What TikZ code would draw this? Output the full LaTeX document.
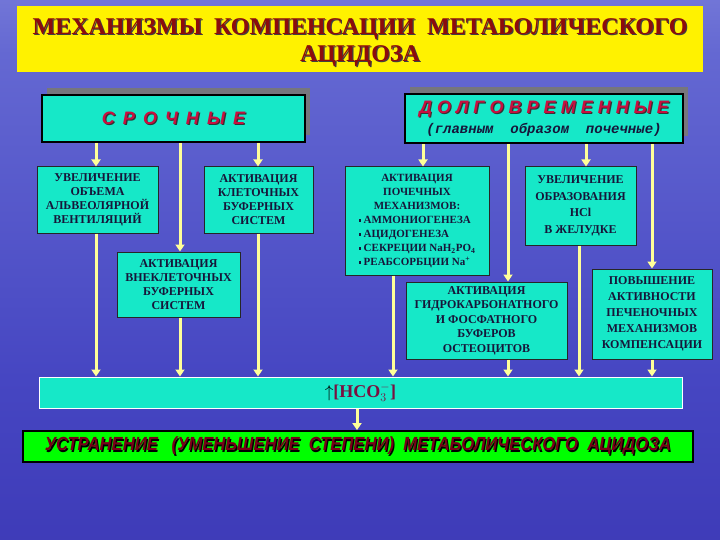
\documentclass[tikz,border=0pt]{standalone}
\usepackage{fontspec}
\setmainfont{Liberation Serif}
\newfontfamily\headfont{Liberation Sans}
\newfontfamily\notefont{Liberation Mono}
\newfontfamily\narrowfont[FakeStretch=0.875]{Liberation Sans}
\usepackage{tikz}
\usetikzlibrary{arrows.meta}
\usetikzlibrary{shadows}
\tikzset{>={Triangle[length=7pt,width=9pt]}}

\definecolor{seabottom}{RGB}{50,42,168}
\definecolor{seamid}{RGB}{70,70,194}
\definecolor{skymid}{RGB}{100,104,210}
\definecolor{skylight}{RGB}{140,144,224}
\definecolor{skytop}{RGB}{186,188,236}
\definecolor{boxteal}{RGB}{22,232,200}
\definecolor{feedyellow}{RGB}{255,255,153}
\definecolor{titlered}{RGB}{140,12,12}
\definecolor{headred}{RGB}{200,16,64}
\definecolor{boxtext}{RGB}{22,22,58}
\definecolor{finalred}{RGB}{120,0,24}
\definecolor{hcored}{RGB}{122,16,64}
\definecolor{shadowgray}{RGB}{118,118,124}

\pgfdeclareverticalshading{sky}{100bp}{color(0bp)=(seabottom); color(40bp)=(seamid);
  color(70bp)=(skymid); color(85bp)=(skylight); color(100bp)=(skytop)}

\newcommand{\shtext}[3]{\makebox[0pt][l]{\kern1.2pt\raisebox{-1.2pt}{\color{#2}#3}}{\color{#1}#3}}
\newcommand{\gapa}{\hspace{0.45em}}
\newcommand{\gapb}{\hspace{0.28em}}
\newcommand{\sq}{\rule[2pt]{2.4pt}{2.4pt}}

\tikzset{
  titlebox/.style={fill=yellow, inner sep=0pt, align=center,
    font=\fontsize{24}{27.5}\selectfont\bfseries},
  headbox/.style={draw=black, line width=1.6pt, fill=boxteal, inner sep=0pt, align=center,
    drop shadow={shadow xshift=5pt, shadow yshift=7pt, fill=shadowgray, opacity=1}},
  subbox/.style={draw=black!85, line width=1pt, fill=boxteal, inner sep=0pt, align=center,
    text=boxtext, font=\fontsize{12}{14}\selectfont\bfseries},
  barbox/.style={draw=white, line width=1pt, fill=boxteal, inner sep=0pt},
  finalbox/.style={draw=black, line width=1.8pt, fill=green, inner sep=0pt},
  feed/.style={->, draw=feedyellow, fill=feedyellow, line width=3pt}
}

\begin{document}
\begin{tikzpicture}[x=1pt,y=-1pt]

\useasboundingbox (0,0) rectangle (720,540);
\shade[shading=sky] (0,0) rectangle (720,540);

% title
\node[titlebox, minimum width=686, minimum height=66] (title) at (360,39)
  {\rule{0pt}{24pt}\shtext{titlered}{black!75}{МЕХАНИЗМЫ\ \ КОМПЕНСАЦИИ\ \ МЕТАБОЛИЧЕСКОГО}\\
   \shtext{titlered}{black!75}{АЦИДОЗА}};

% two groups
\node[headbox, minimum width=263, minimum height=47] (srochnye) at (173.5,118.5)
  {\headfont\bfseries\itshape\fontsize{18}{20}\selectfont
   \shtext{headred}{black!80}{С\gapa Р\gapa О\gapa Ч\gapa Н\gapa Ы\gapa Е}};
\node[headbox, minimum width=278, minimum height=49,
  font=\fontsize{18}{20}\selectfont] (dolg) at (544,118.5)
  {{\headfont\bfseries\itshape
    \shtext{headred}{black!80}{Д\gapb О\gapb Л\gapb Г\gapb О\gapb В\gapb Р\gapb Е\gapb М\gapb Е\gapb Н\gapb Н\gapb Ы\gapb Е}}\\
   {\notefont\bfseries\itshape\fontsize{14}{16}\selectfont\color{boxtext}(главным\ \ образом\ \ почечные)}};

% urgent mechanisms
\node[subbox, minimum width=121, minimum height=66] (uvel) at (97.5,200)
  {УВЕЛИЧЕНИЕ\\ОБЪЕМА\\АЛЬВЕОЛЯРНОЙ\\ВЕНТИЛЯЦИЙ};
\node[subbox, minimum width=109, minimum height=66] (klet) at (258.5,200)
  {АКТИВАЦИЯ\\КЛЕТОЧНЫХ\\БУФЕРНЫХ\\СИСТЕМ};
\node[subbox, minimum width=123, minimum height=65] (vnekl) at (178.5,284.5)
  {АКТИВАЦИЯ\\ВНЕКЛЕТОЧНЫХ\\БУФЕРНЫХ\\СИСТЕМ};

% long-term mechanisms
\node[subbox, minimum width=144, minimum height=108,
  font=\fontsize{11}{14}\selectfont\bfseries] (pochech) at (417,221)
  {\begin{tabular}{@{}l@{}}
   \multicolumn{1}{@{}c@{}}{АКТИВАЦИЯ}\\
   \multicolumn{1}{@{}c@{}}{ПОЧЕЧНЫХ}\\
   \multicolumn{1}{@{}c@{}}{МЕХАНИЗМОВ:}\\
   \sq\ АММОНИОГЕНЕЗА\\
   \sq\ АЦИДОГЕНЕЗА\\
   \sq\ СЕКРЕЦИИ NaH\textsubscript{2}PO\textsubscript{4}\\
   \sq\ РЕАБСОРБЦИИ Na\textsuperscript{+}
   \end{tabular}};
\node[subbox, minimum width=111, minimum height=78,
  font=\fontsize{12}{16.5}\selectfont\bfseries] (hcl) at (580.5,206)
  {УВЕЛИЧЕНИЕ\\ОБРАЗОВАНИЯ\\HCl\\В ЖЕЛУДКЕ};
\node[subbox, minimum width=161, minimum height=77,
  font=\fontsize{12}{14.5}\selectfont\bfseries] (gidro) at (486.5,320.5)
  {АКТИВАЦИЯ\\ГИДРОКАРБОНАТНОГО\\И ФОСФАТНОГО\\БУФЕРОВ\\ОСТЕОЦИТОВ};
\node[subbox, minimum width=120, minimum height=90,
  font=\fontsize{12}{16}\selectfont\bfseries] (povysh) at (652,314)
  {ПОВЫШЕНИЕ\\АКТИВНОСТИ\\ПЕЧЕНОЧНЫХ\\МЕХАНИЗМОВ\\КОМПЕНСАЦИИ};

% result
\node[barbox, minimum width=643, minimum height=31] (bar) at (360.5,392.5)
  {\bfseries\fontsize{18}{20}\selectfont{\color{black}$\uparrow$}\color{hcored}[HCO$_{3}^{-}$]};
\node[finalbox, minimum width=670, minimum height=31] (final) at (358,446.5)
  {\narrowfont\bfseries\itshape\fontsize{19}{20}\selectfont
   \shtext{finalred}{black}{УСТРАНЕНИЕ\ \ \ (УМЕНЬШЕНИЕ\ \ СТЕПЕНИ)\ \ МЕТАБОЛИЧЕСКОГО\ \ АЦИДОЗА}};

% lanes of the connectors
\coordinate (laneA) at (96,0);
\coordinate (laneB) at (180,0);
\coordinate (laneC) at (258,0);
\coordinate (laneD) at (393,0);
\coordinate (laneE) at (423,0);
\coordinate (laneF) at (508,0);
\coordinate (laneG) at (579,0);
\coordinate (laneH) at (586,0);
\coordinate (laneI) at (652,0);
\coordinate (laneJ) at (357,0);

\draw[feed] (srochnye.south -| laneA) -- (uvel.north -| laneA);
\draw[feed] (srochnye.south -| laneB) -- (vnekl.north -| laneB);
\draw[feed] (srochnye.south -| laneC) -- (klet.north -| laneC);
\draw[feed] (uvel.south -| laneA) -- (bar.north -| laneA);
\draw[feed] (vnekl.south -| laneB) -- (bar.north -| laneB);
\draw[feed] (klet.south -| laneC) -- (bar.north -| laneC);

\draw[feed] (dolg.south -| laneE) -- (pochech.north -| laneE);
\draw[feed] (dolg.south -| laneF) -- (gidro.north -| laneF);
\draw[feed] (dolg.south -| laneH) -- (hcl.north -| laneH);
\draw[feed] (dolg.south -| laneI) -- (povysh.north -| laneI);
\draw[feed] (pochech.south -| laneD) -- (bar.north -| laneD);
\draw[feed] (gidro.south -| laneF) -- (bar.north -| laneF);
\draw[feed] (hcl.south -| laneG) -- (bar.north -| laneG);
\draw[feed] (povysh.south -| laneI) -- (bar.north -| laneI);

\draw[feed] (bar.south -| laneJ) -- (final.north -| laneJ);

\end{tikzpicture}
\end{document}
